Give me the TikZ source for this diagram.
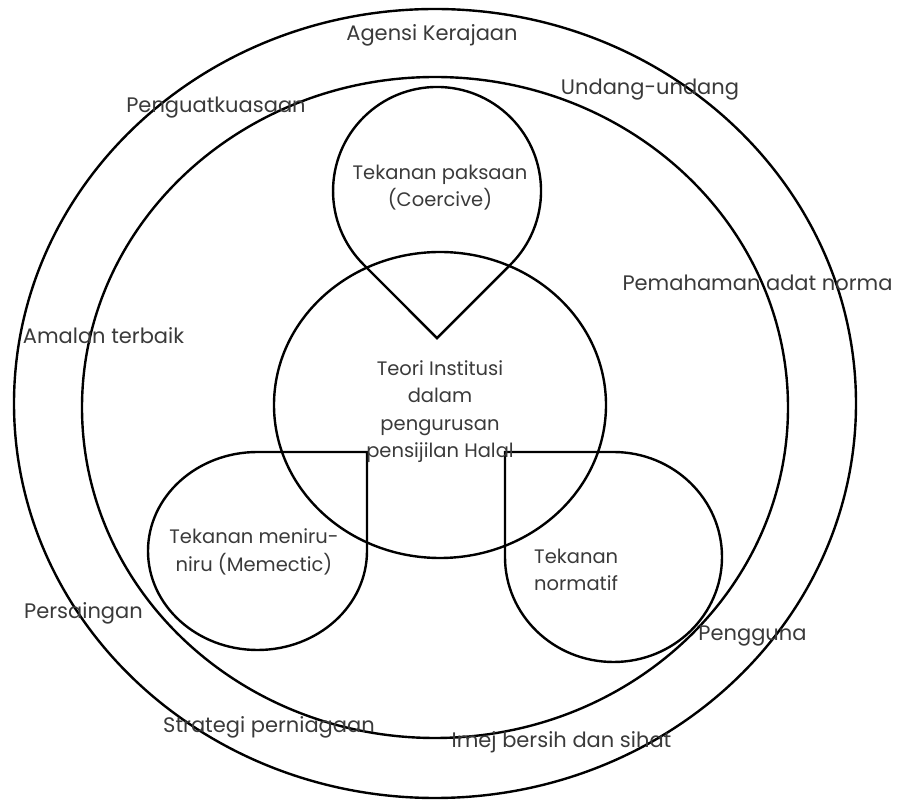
\documentclass[tikz,border=0pt]{standalone}
\usepackage{fontspec}
\setmainfont{Poppins}
\usetikzlibrary{calc}
\definecolor{txtgray}{HTML}{3A3A3A}

\begin{document}
\begin{tikzpicture}[x=1pt,y=1pt,line width=2.4pt,
  font=\fontsize{21}{27.5}\selectfont,
  lbl/.style={text=txtgray,inner sep=0pt,align=center},
  inlbl/.style={lbl,font=\fontsize{19.5}{27.5}\selectfont}]
\useasboundingbox (0,0) rectangle (898,801);
%rings
\draw (435,397.5) ellipse [x radius=421,y radius=394.5];
\draw (435,393.5) ellipse [x radius=353,y radius=330.5];
%centre
\draw (440,396) ellipse [x radius=166,y radius=153];
%drops
\draw (437,462.9) -- (363.5,536.5) arc [start angle=225,end angle=-45,radius=104] -- cycle;
\draw (367,250) arc [start angle=0,end angle=-270,x radius=109.5,y radius=99] -- (367,349) -- cycle;
\draw (505,244) arc [start angle=180,end angle=450,x radius=108.5,y radius=105] -- (505,349) -- cycle;
%labels
\node[lbl] (agensi) at (432,766) {Agensi Kerajaan};
\node[lbl] (undang) at (650,711) {Undang-undang};
\node[lbl] (kuasa) at (216,693) {Penguatkuasaan};
\node[lbl] (norma) at (757.5,518) {Pemahaman adat norma};
\node[lbl] (amalan) at (103.5,465) {Amalan terbaik};
\node[lbl] (saing) at (83.5,188) {Persaingan};
\node[lbl] (guna) at (752.5,165) {Pengguna};
\node[lbl] (strategi) at (269,74) {Strategi perniagaan};
\node[lbl] (imej) at (561.5,59) {Imej bersih dan sihat};
\node[inlbl] (paksa) at (440,613.5) {Tekanan paksaan\\(Coercive)};
\node[inlbl] (teori) at (440,389.5) {Teori Institusi\\dalam\\pengurusan\\pensijilan Halal};
\node[inlbl] (tiru) at (254,249) {Tekanan meniru-\\niru (Memectic)};
\node[inlbl,align=left,anchor=west] (normatif) at (533,231) {Tekanan\\normatif};
\end{tikzpicture}
\end{document}
